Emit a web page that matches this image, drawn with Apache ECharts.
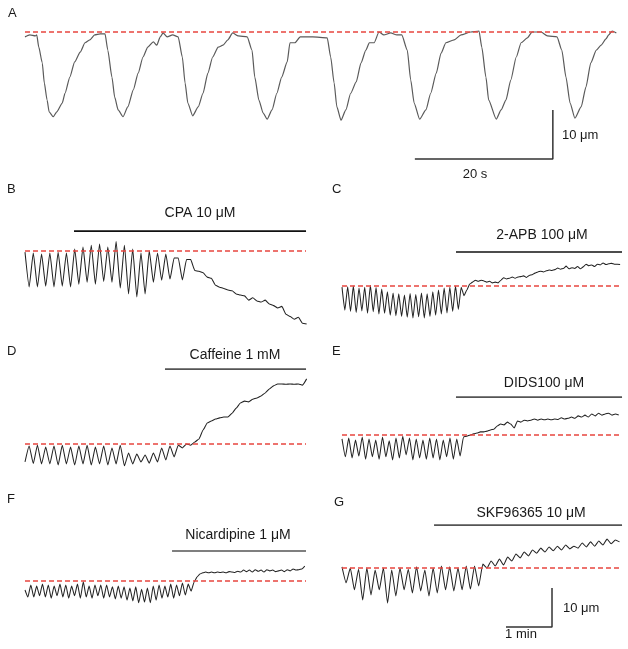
<!DOCTYPE html>
<html><head><meta charset="utf-8">
<script src="https://cdn.jsdelivr.net/npm/echarts@6/dist/echarts.min.js"></script>
<style>html,body{margin:0;padding:0;background:#fff}#c{width:628px;height:649px}</style>
</head><body><div id="c"></div><script>
// Panel A: time (s) and diameter change (µm) relative to baseline
const timeA = [0,0.7,1.5,1.7,2.0,2.5,2.8,3.2,3.5,4.1,4.6,5.4,5.8,6.5,7.2,8.0,8.7,9.4,10.1,10.9,11.6,12.0,12.6,13.0,13.5,14.2,14.9,15.7,16.4,17.1,17.8,18.6,19.1,19.6,20.0,20.6,21.4,22.2,22.8,23.2,23.6,24.3,25.1,25.8,26.5,27.2,28.0,28.7,29.4,30.1,30.9,32.2,32.9,33.3,33.9,34.5,35.1,35.8,36.5,37.2,38.0,38.4,39.1,39.9,41.7,43.8,44.3,44.8,45.2,45.8,46.5,47.2,48.0,48.7,49.4,49.9,50.6,51.3,52.0,53.0,53.9,54.6,55.4,55.9,56.4,57.2,58.1,58.8,59.6,60.3,61.0,62.2,63.2,64.6,65.8,66.2,66.8,67.2,68.3,69.0,69.7,70.4,71.2,71.9,72.8,73.5,74.8,75.7,77.1,77.8,78.4,79.0,79.7,80.6,81.3,82.0,82.8,83.5,84.2,84.6,85.1,85.7];
const diamA = [-1.1,-0.7,-0.9,-0.7,-3.2,-6.4,-10.5,-14.0,-16.4,-17.4,-16.4,-14.6,-12.6,-9.3,-6.2,-4.2,-2.3,-1.7,-0.7,-0.5,-0.5,-3.8,-9.3,-13.4,-16.0,-17.4,-15.4,-11.9,-8.5,-5.2,-3.2,-2.1,-2.8,-1.1,-0.3,-1.1,-0.7,-1.1,-5.2,-10.5,-14.6,-17.2,-15.4,-12.6,-8.5,-5.2,-3.2,-2.8,-1.7,-0.3,-0.9,-1.1,-3.8,-9.3,-14.0,-16.6,-17.9,-16.0,-12.6,-9.3,-6.2,-2.3,-2.3,-1.1,-1.1,-1.3,-5.2,-10.5,-15.4,-18.1,-16.0,-12.6,-10.3,-6.4,-3.8,-2.3,-2.3,-0.1,-0.7,-0.3,-0.7,-0.7,-3.8,-9.9,-14.6,-17.9,-16.0,-12.6,-8.5,-4.4,-2.3,-1.7,-0.7,-0.1,0.1,-3.2,-9.3,-14.0,-17.9,-16.0,-14.0,-9.9,-5.2,-2.3,-1.3,-0.1,-0.1,-0.9,-1.1,-3.8,-9.3,-14.6,-17.7,-15.4,-11.3,-6.4,-3.8,-2.8,-1.5,-0.7,0.1,-0.3];

// Panels B-G: diameter change (µm), uniformly sampled
const diamB = [-0.3,-9.2,-0.5,-9.2,-0.8,-9.0,-0.5,-9.2,-0.3,-9.0,-0.5,-9.2,0.5,-8.5,1.0,-8.0,1.5,-8.5,1.8,-7.8,1.0,-8.0,2.4,-9.5,1.5,-11.0,0.5,-11.8,-0.5,-11.0,0.0,-8.0,-0.5,-7.5,-0.8,-7.2,-1.8,-1.8,-7.4,-2.2,-2.2,-5.0,-5.2,-5.6,-6.7,-7.0,-8.8,-9.3,-9.6,-10.0,-10.2,-11.0,-11.3,-11.5,-12.6,-12.0,-12.8,-13.1,-12.6,-13.6,-14.0,-14.6,-14.2,-16.2,-16.8,-17.5,-17.0,-18.5,-18.7];
const diamC = [-0.3,-6.2,-0.2,-6.5,0.0,-6.8,-0.5,-6.4,-0.3,-7.0,0.2,-6.6,-0.4,-7.2,-0.8,-7.0,-1.5,-7.5,-1.8,-7.6,-2.0,-7.8,-2.3,-8.0,-1.9,-8.2,-2.2,-7.9,-1.8,-8.2,-2.0,-7.8,-1.5,-7.5,-1.0,-7.2,-0.5,-6.9,-0.3,-6.5,0.0,-6.0,-0.3,-2.5,-1.0,0.5,1.0,1.5,1.2,1.5,1.3,1.0,1.2,0.8,1.0,0.8,1.5,2.1,1.8,2.0,2.3,2.0,2.3,2.4,2.6,2.2,2.7,2.9,3.3,3.6,3.8,3.6,3.9,4.1,4.0,4.2,4.6,4.3,4.5,5.1,4.4,4.7,4.5,5.0,4.4,4.9,5.6,5.2,5.4,5.0,5.6,5.4,5.9,5.5,5.7,5.8,5.6,5.6,5.5];
const diamD = [-4.6,-0.5,-5.0,-0.3,-5.1,-0.8,-5.1,-0.5,-5.4,-0.3,-5.1,-0.8,-5.4,-0.5,-5.1,-0.3,-5.4,-0.8,-5.1,-0.5,-5.4,-1.0,-5.1,-0.3,-5.6,-2.3,-5.1,-2.6,-4.6,-2.8,-4.9,-2.3,-4.6,-1.0,-4.1,-0.5,-3.3,-0.3,-1.0,0.0,-0.3,0.5,1.3,3.6,5.4,5.9,6.4,6.7,6.9,6.9,7.9,9.2,10.5,11.0,10.8,11.5,11.8,12.3,13.1,14.1,14.9,15.4,15.4,15.3,15.4,15.3,15.4,15.1,16.7];
const diamE = [-1.0,-5.6,-0.8,-5.9,-1.3,-5.4,-0.5,-6.2,-1.0,-5.6,-1.3,-6.2,-0.5,-5.6,-1.5,-6.4,-0.8,-5.9,-0.3,-5.1,-0.8,-6.4,-1.0,-5.9,-1.3,-6.2,-0.8,-5.9,-1.0,-6.4,-1.3,-5.6,-0.8,-6.2,-1.0,-5.4,-0.5,-0.3,0.0,0.3,0.5,0.8,0.8,1.0,1.3,1.5,2.3,2.8,2.6,3.3,2.8,1.8,3.6,3.3,3.8,3.6,3.8,4.1,3.8,4.1,3.9,4.1,3.9,4.1,4.0,4.4,4.1,4.3,4.6,4.3,4.9,4.6,5.1,4.6,5.4,4.9,5.6,5.1,5.4,5.6,5.1,5.4,5.1];
const diamF = [-2.3,-4.1,-1.0,-4.1,-1.3,-3.8,-0.8,-4.1,-1.0,-4.4,-1.3,-3.8,-0.8,-4.1,-1.0,-4.4,-1.3,-3.8,-0.8,-4.4,-0.2,-4.1,-1.3,-4.4,-1.0,-3.8,-1.0,-4.4,-1.0,-4.1,-1.5,-4.6,-1.3,-4.4,-1.5,-4.9,-1.8,-5.1,-1.5,-5.6,-2.1,-5.4,-1.8,-5.6,-1.3,-4.9,-1.0,-4.4,-1.3,-4.1,-0.8,-4.4,-1.0,-3.8,-0.5,-3.6,-0.8,-2.6,-0.3,1.0,1.8,2.1,2.3,2.1,2.3,2.1,2.3,2.2,2.3,2.1,2.4,2.3,2.2,2.5,2.3,2.8,2.4,2.8,2.3,2.9,2.5,2.8,2.3,2.9,2.6,2.8,2.4,2.6,2.8,2.4,2.9,2.6,3.1,2.8,2.9,3.1,3.8];
const diamG = [0.3,-3.8,0.0,-5.6,-0.3,-8.2,0.0,-6.9,-0.5,-5.6,0.0,-9.0,-0.5,-7.2,0.0,-5.6,-0.3,-6.4,0.3,-5.9,-0.5,-7.2,0.0,-6.4,0.5,-5.6,0.3,-5.9,0.0,-5.6,0.5,-5.4,0.5,-4.6,1.0,0.0,1.8,0.5,2.3,0.8,2.8,1.8,3.6,2.6,4.1,3.1,4.6,3.8,5.1,4.1,5.4,4.4,5.6,4.6,5.9,4.9,5.6,5.1,6.4,5.4,6.7,5.6,6.9,5.9,7.4,6.2,7.2,6.7];
// sample intervals (s)
const sampleDt = {B:5.4, C:3.7, D:5.4, E:4.4, F:3.8, G:5.4};

// drug application bars: label, start (s), end (s), level (µm)
const drugLabels = {B:'CPA 10 μM', C:'2-APB 100 μM', D:'Caffeine 1 mM', E:'DIDS100 μM', F:'Nicardipine 1 μM', G:'SKF96365 10 μM'};
const drugStart = {B:63.9, C:148.6, D:182.5, E:148.6, F:191.7, G:120};
const drugEnd   = {B:366.4, C:365.1, D:366.4, E:365.1, F:366.4, G:365.1};
const drugLevel = {B:5.1, C:8.7, D:19.2, E:9.7, F:7.7, G:11.0};

// scale bars
const scaleA = [[56.5,-26.0],[76.5,-26.0],[76.5,-16.0]]; // 20 s, 10 µm
const scaleG = [[213.8,-15.1],[273.8,-15.1],[273.8,-5.1]]; // 1 min, 10 µm

// layout (pixels) per panel: [left, top, width, height], baseline px, px per µm, px per s
const layout = {
  A:{box:[25,18,591,150], base:31.5, ppu:4.9, pps:6.9},
  B:{box:[25,222,281,113], base:251, ppu:3.9, pps:0.767},
  C:{box:[342,245,280,85], base:286, ppu:3.9, pps:0.767},
  D:{box:[25,362,281,113], base:444, ppu:3.9, pps:0.767},
  E:{box:[342,390,280,80], base:435, ppu:3.9, pps:0.767},
  F:{box:[25,545,281,70], base:581, ppu:3.9, pps:0.767},
  G:{box:[342,518,280,122], base:568, ppu:3.9, pps:0.767}
};
const traces = {
  A: timeA.map((t,i)=>[t, diamA[i]]),
  B: diamB, C: diamC, D: diamD, E: diamE, F: diamF, G: diamG
};
const keys = ['A','B','C','D','E','F','G'];

const grids=[], xAxes=[], yAxes=[], series=[];
keys.forEach((k,i)=>{
  const L = layout[k];
  const [left,top,w,h] = L.box;
  grids.push({left:left, top:top, width:w, height:h, containLabel:false});
  xAxes.push({gridIndex:i, type:'value', min:0, max:w/L.pps, show:false});
  yAxes.push({gridIndex:i, type:'value', min:(L.base-(top+h))/L.ppu, max:(L.base-top)/L.ppu, show:false});
  const data = k==='A' ? traces.A : traces[k].map((v,j)=>[+(j*sampleDt[k]).toFixed(2), v]);
  series.push({
    type:'line', xAxisIndex:i, yAxisIndex:i, data:data, showSymbol:false, symbol:'none',
    smooth: k==='A'?0.2:0.15, smoothMonotone:'x',
    lineStyle:{color: k==='A'?'#5a5a5a':'#222', width: k==='A'?1.2:1.05},
    silent:true, z:3,
    markLine:{silent:true, symbol:['none','none'], label:{show:false}, animation:false,
      lineStyle:{color:'#e8463f', type:[5,3], width:1.5}, data:[{yAxis:0}]}
  });
  if (k!=='A') {
    series.push({
      type:'line', xAxisIndex:i, yAxisIndex:i, showSymbol:false, symbol:'none', silent:true,
      data:[[drugStart[k], drugLevel[k]],[drugEnd[k], drugLevel[k]]],
      lineStyle:{color:(k==='B'||k==='C')?'#111':'#555', width:1.6}
    });
  }
});
series.push({type:'line', xAxisIndex:0, yAxisIndex:0, data:scaleA, showSymbol:false, symbol:'none', silent:true, lineStyle:{color:'#333', width:1.5}});
series.push({type:'line', xAxisIndex:6, yAxisIndex:6, data:scaleG, showSymbol:false, symbol:'none', silent:true, lineStyle:{color:'#333', width:1.5}});

const font = 'Liberation Sans, Arial, sans-serif';
function txt(s, x, y, size, align){
  return {type:'text', x:x, y:y, style:{text:s, fill:'#1a1a1a', font: size+'px '+font, textAlign:align||'center', textVerticalAlign:'middle'}};
}
const graphic = [
  txt('A',8,13,13,'left'), txt('B',7,189,13,'left'), txt('C',332,189,13,'left'),
  txt('D',7,351,13,'left'), txt('E',332,351,13,'left'), txt('F',7,499,13,'left'), txt('G',334,502,13,'left'),
  txt(drugLabels.B,200,213,14), txt(drugLabels.C,542,235,14), txt(drugLabels.D,235,355,14),
  txt(drugLabels.E,544,383,14), txt(drugLabels.F,238,535,14), txt(drugLabels.G,531,513,14),
  txt('10 μm',562,135,13,'left'), txt('20 s',475,174,13),
  txt('10 μm',563,608,13,'left'), txt('1 min',521,634,13)
];

const chart = echarts.init(document.getElementById('c'));
chart.setOption({animation:false, backgroundColor:'#fff', grid:grids, xAxis:xAxes, yAxis:yAxes, series:series, graphic:graphic});
</script></body></html>
